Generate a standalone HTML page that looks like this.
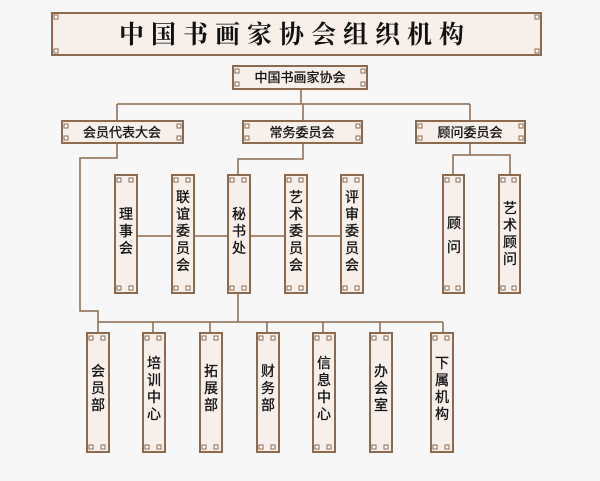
<!DOCTYPE html>
<html><head><meta charset="utf-8"><style>
html,body{margin:0;padding:0;background:#f7f7f7;}
svg{display:block}
text{font-family:"Liberation Sans","Noto Sans CJK SC",sans-serif;fill:#111;stroke:#111;stroke-width:0.3;}
</style></head><body>
<svg width="600" height="481" viewBox="0 0 600 481" xmlns="http://www.w3.org/2000/svg">
<defs>
<g id="k"><rect x="0" y="0" width="4" height="4" fill="#fff" stroke="#8c6a4f" stroke-width="1"/></g>
</defs>
<rect width="600" height="481" fill="#f7f7f7"/>
<g stroke="#8c6a4f" stroke-width="1.5" fill="none">
<path d="M301 89V104M117 104H470M117 104V121M303 104V121M470 104V121"/>
<path d="M117 143V158H80V311H98V333"/>
<path d="M303 143V159H238V175"/>
<path d="M470 143V155H453V175M453 155H510V175"/>
<path d="M137 236H340"/>
<path d="M238 293V322M98 322H443M153 322V333M210 322V333M267 322V333M323 322V333M380 322V333M443 322V333"/>
</g>
<g fill="#f6efea" stroke="#8c6a4f" stroke-width="2">
<rect x="52" y="13" width="489" height="42"/>
<rect x="233" y="66" width="134" height="23"/>
<rect x="62" y="121" width="121" height="22"/>
<rect x="243" y="121" width="119" height="22"/>
<rect x="416" y="121" width="109" height="22"/>
<rect x="115" y="175" width="22" height="118"/>
<rect x="172" y="175" width="22" height="118"/>
<rect x="228" y="175" width="22" height="118"/>
<rect x="285" y="175" width="22" height="118"/>
<rect x="341" y="175" width="22" height="118"/>
<rect x="443" y="175" width="21" height="118"/>
<rect x="499" y="175" width="21" height="118"/>
<rect x="87" y="333" width="22" height="119"/>
<rect x="143" y="333" width="22" height="119"/>
<rect x="200" y="333" width="22" height="119"/>
<rect x="257" y="333" width="22" height="119"/>
<rect x="313" y="333" width="22" height="119"/>
<rect x="370" y="333" width="22" height="119"/>
<rect x="431" y="333" width="22" height="119"/>
</g>
<g>
<use href="#k" x="54" y="15"/><use href="#k" x="54" y="49"/><use href="#k" x="535" y="15"/><use href="#k" x="535" y="49"/>
<use href="#k" x="235" y="69"/><use href="#k" x="235" y="82"/><use href="#k" x="361" y="69"/><use href="#k" x="361" y="82"/>
<use href="#k" x="64" y="124"/><use href="#k" x="64" y="136"/><use href="#k" x="177" y="124"/><use href="#k" x="177" y="136"/>
<use href="#k" x="245" y="124"/><use href="#k" x="245" y="136"/><use href="#k" x="356" y="124"/><use href="#k" x="356" y="136"/>
<use href="#k" x="418" y="124"/><use href="#k" x="418" y="136"/><use href="#k" x="519" y="124"/><use href="#k" x="519" y="136"/>
</g>
<g>
<use href="#k" x="117" y="178"/><use href="#k" x="129" y="178"/><use href="#k" x="117" y="286"/><use href="#k" x="129" y="286"/>
<use href="#k" x="174" y="178"/><use href="#k" x="186" y="178"/><use href="#k" x="174" y="286"/><use href="#k" x="186" y="286"/>
<use href="#k" x="230" y="178"/><use href="#k" x="242" y="178"/><use href="#k" x="230" y="286"/><use href="#k" x="242" y="286"/>
<use href="#k" x="287" y="178"/><use href="#k" x="299" y="178"/><use href="#k" x="287" y="286"/><use href="#k" x="299" y="286"/>
<use href="#k" x="343" y="178"/><use href="#k" x="355" y="178"/><use href="#k" x="343" y="286"/><use href="#k" x="355" y="286"/>
<use href="#k" x="445" y="178"/><use href="#k" x="456" y="178"/><use href="#k" x="445" y="286"/><use href="#k" x="456" y="286"/>
<use href="#k" x="501" y="178"/><use href="#k" x="512" y="178"/><use href="#k" x="501" y="286"/><use href="#k" x="512" y="286"/>
<use href="#k" x="89" y="336"/><use href="#k" x="101" y="336"/><use href="#k" x="89" y="445"/><use href="#k" x="101" y="445"/>
<use href="#k" x="145" y="336"/><use href="#k" x="157" y="336"/><use href="#k" x="145" y="445"/><use href="#k" x="157" y="445"/>
<use href="#k" x="202" y="336"/><use href="#k" x="214" y="336"/><use href="#k" x="202" y="445"/><use href="#k" x="214" y="445"/>
<use href="#k" x="259" y="336"/><use href="#k" x="271" y="336"/><use href="#k" x="259" y="445"/><use href="#k" x="271" y="445"/>
<use href="#k" x="315" y="336"/><use href="#k" x="327" y="336"/><use href="#k" x="315" y="445"/><use href="#k" x="327" y="445"/>
<use href="#k" x="372" y="336"/><use href="#k" x="384" y="336"/><use href="#k" x="372" y="445"/><use href="#k" x="384" y="445"/>
<use href="#k" x="433" y="336"/><use href="#k" x="445" y="336"/><use href="#k" x="433" y="445"/><use href="#k" x="445" y="445"/>
</g>
<text x="295" y="43" text-anchor="middle" style="font-family:'Noto Serif CJK SC',serif;font-weight:bold;font-size:25px;letter-spacing:7px;stroke-width:0">中国书画家协会组织机构</text>
<g font-size="13" text-anchor="middle">
<text x="300" y="82">中国书画家协会</text>
<text x="122" y="137">会员代表大会</text>
<text x="302" y="137">常务委员会</text>
<text x="470" y="137">顾问委员会</text>
</g>
<g font-size="14" text-anchor="middle">
<text x="126" y="219">理</text><text x="126" y="236">事</text><text x="126" y="253">会</text>
<text x="183" y="202">联</text><text x="183" y="219">谊</text><text x="183" y="236">委</text><text x="183" y="253">员</text><text x="183" y="270">会</text>
<text x="239" y="219">秘</text><text x="239" y="236">书</text><text x="239" y="253">处</text>
<text x="296" y="202">艺</text><text x="296" y="219">术</text><text x="296" y="236">委</text><text x="296" y="253">员</text><text x="296" y="270">会</text>
<text x="352" y="202">评</text><text x="352" y="219">审</text><text x="352" y="236">委</text><text x="352" y="253">员</text><text x="352" y="270">会</text>
<text x="454" y="228">顾</text><text x="454" y="252">问</text>
<text x="510" y="213">艺</text><text x="510" y="230">术</text><text x="510" y="247">顾</text><text x="510" y="264">问</text>
<text x="98" y="376">会</text><text x="98" y="393">员</text><text x="98" y="410">部</text>
<text x="154" y="368">培</text><text x="154" y="385">训</text><text x="154" y="402">中</text><text x="154" y="419">心</text>
<text x="211" y="376">拓</text><text x="211" y="393">展</text><text x="211" y="410">部</text>
<text x="268" y="376">财</text><text x="268" y="393">务</text><text x="268" y="410">部</text>
<text x="324" y="368">信</text><text x="324" y="385">息</text><text x="324" y="402">中</text><text x="324" y="419">心</text>
<text x="381" y="376">办</text><text x="381" y="393">会</text><text x="381" y="410">室</text>
<text x="442" y="368">下</text><text x="442" y="385">属</text><text x="442" y="402">机</text><text x="442" y="419">构</text>
</g>
</svg>
</body></html>
